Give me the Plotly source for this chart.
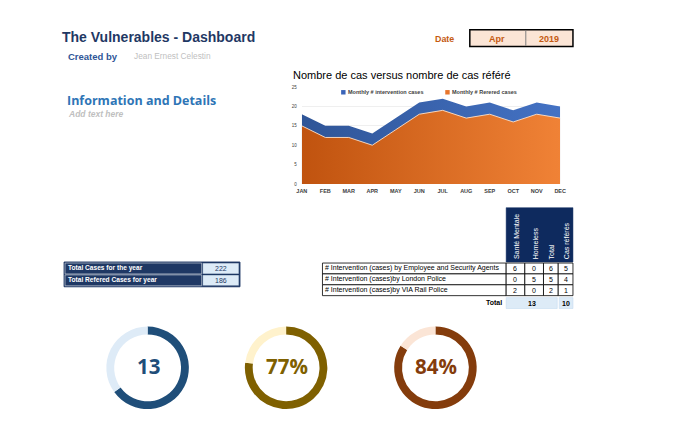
import plotly.graph_objects as go

W, H = 680, 432
OFF = 8  # page body margin offset

# ---------------- data ----------------
months = ["JAN", "FEB", "MAR", "APR", "MAY", "JUN", "JUL", "AUG", "SEP", "OCT", "NOV", "DEC"]
intervention = [18, 15, 15, 13, 17, 21, 22, 20, 21, 19, 21, 20]
referred = [15, 12, 12, 10, 14, 18, 19, 17, 18, 16, 18, 17]
y_ticks = [0, 5, 10, 15, 20, 25]
series_names = ["Monthly # intervention cases", "Monthly # Rerered cases"]

summary_labels = ["Total Cases for the year", "Total Refered Cases for year"]
summary_values = [222, 186]

agent_labels = [
    "# Intervention (cases) by Employee and Security Agents",
    "# Intervention (cases)by London Police",
    "# Intervention (cases)by VIA Rail Police",
]
col_headers = ["Santé Mentale", "Homeless", "Total", "Cas référés"]
sante = [6, 0, 2]
homeless = [0, 5, 0]
total_col = [6, 5, 2]
cas_referes = [5, 4, 1]
total_cases_row = 13
total_referes_row = 10

kpi_labels = ["13", "77%", "84%"]
kpi_fill = [65, 77, 84]
kpi_dark = ["#1F4E79", "#7F6000", "#843C0C"]
kpi_light = ["#DEEBF7", "#FFF2CC", "#FBE5D6"]

date_month = "Apr"
date_year = "2019"


def px(x):
    return (x - OFF) / W


def py(y):
    return 1 - (y - OFF) / H


fig = go.Figure()

# ---------------- area chart ----------------
fig.add_trace(go.Scatter(
    x=months, y=intervention, name=series_names[0],
    mode="lines", line=dict(width=0, color="#4472C4"),
    fill="tozeroy", fillcolor="#3F6BC0",
    fillgradient=dict(type="horizontal", colorscale=[[0, "#2F5597"], [1, "#4472C4"]]),
    hoverinfo="skip", showlegend=False,
))
fig.add_trace(go.Scatter(
    x=months, y=referred, name=series_names[1],
    mode="lines", line=dict(width=1, color="rgba(255,225,200,0.9)"),
    fill="tozeroy", fillcolor="#E06F25",
    fillgradient=dict(type="horizontal", colorscale=[[0, "#C0530F"], [1, "#F08236"]]),
    hoverinfo="skip", showlegend=False,
))

fig.update_layout(
    xaxis=dict(
        domain=[px(301), px(564)], range=[0, 11], type="category",
        showgrid=True, gridcolor="rgba(255,255,255,0.35)", gridwidth=1,
        layer="above traces", showline=False, zeroline=False,
        tickfont=dict(size=5.5, family="Liberation Sans", color="#404040", weight="bold"),
        ticks="", ticklabelstandoff=3,
    ),
    yaxis=dict(
        domain=[py(184), py(86)], range=[0, 25], tickvals=y_ticks,
        showgrid=True, gridcolor="#EFEFEF", zeroline=False, showline=False,
        tickfont=dict(size=4.5, family="Liberation Sans", color="#404040"),
        ticks="", ticklabelstandoff=4,
    ),
)

# ---------------- donuts ----------------
centers = [144, 285, 437]
cy, r = 370, 42
for i, cx in enumerate(centers):
    fig.add_trace(go.Pie(
        values=[kpi_fill[i], 100 - kpi_fill[i]],
        marker=dict(colors=[kpi_dark[i], kpi_light[i]], line=dict(width=0)),
        hole=0.81, sort=False, direction="clockwise", rotation=0,
        textinfo="none", hoverinfo="skip", showlegend=False,
        domain=dict(x=[px(cx - r), px(cx + r)], y=[py(cy + r), py(cy - r)]),
    ))

shapes = []
ann = []


def text(x, y, s, size, color, weight="normal", family="Liberation Sans",
         xanchor="left", style="normal", angle=0, yanchor="middle"):
    ann.append(dict(
        x=px(x), y=py(y), xref="paper", yref="paper", text=s, showarrow=False,
        xanchor=xanchor, yanchor=yanchor, textangle=angle, borderpad=0,
        font=dict(size=size, color=color, family=family, weight=weight, style=style),
    ))


def rect(x0, y0, x1, y1, fill, line="rgba(0,0,0,0)", lw=0):
    shapes.append(dict(
        type="rect", xref="paper", yref="paper",
        x0=px(x0), x1=px(x1), y0=py(y1), y1=py(y0),
        fillcolor=fill, line=dict(color=line, width=lw), layer="above",
    ))


def line(x0, y0, x1, y1, color, lw=1):
    shapes.append(dict(
        type="line", xref="paper", yref="paper",
        x0=px(x0), x1=px(x1), y0=py(y0), y1=py(y1),
        line=dict(color=color, width=lw), layer="above",
    ))


for i, cx in enumerate(centers):
    text(cx + 1, cy - 2, kpi_labels[i], 20.5, kpi_dark[i], weight="bold",
         family="Open Sans", xanchor="center")

# chart legend (compact squares)
leg_x = [341, 447]
leg_col = ["#3A64B8", "#E8762C"]
for k in range(2):
    rect(leg_x[k], 89, leg_x[k] + 4.5, 93.5, leg_col[k])
    text(leg_x[k] + 6, 91.3, series_names[k], 5.5, "#404040", weight="bold")

# ---------------- headers ----------------
text(56, 35, "The Vulnerables - Dashboard", 14, "#1F3864", weight="bold")
text(62, 55, "Created by", 9.5, "#2F5597", weight="bold")
text(129, 55, "Jean Ernest Celestin", 8.3, "#BFBFBF")
text(61, 100, "Information and Details", 12.5, "#2E75B6", weight="bold", family="Open Sans")
text(62, 113, "Add text here", 8.5, "#BFBFBF", weight="bold", style="italic")
text(291, 74, "Nombre de cas versus nombre de cas référé", 11, "#000000")

# date box
text(436, 37, "Date", 8.9, "#C55A11", weight="bold")
rect(472, 28, 577, 45, "#FBE5D6", "#000000", 1.5)
line(529, 28.8, 529, 44.2, "#7F7F7F", 1)
text(500, 37, date_month, 9, "#C55A11", weight="bold", xanchor="center")
text(553, 37, date_year, 9, "#C55A11", weight="bold", xanchor="center")

# right page edge line
line(679, 0, 679, 432, "#D9D9D9", 1)

# ---------------- left summary table ----------------
rect(59, 263, 238, 288, "#1F3864", "#1F3864", 1)
rows_y = [(264, 275), (276, 287)]
for i, (y0, y1) in enumerate(rows_y):
    rect(60, y0, 199, y1, "#1F3864", "#FFFFFF", 0.5)
    rect(200, y0, 237, y1, "#DDEBF7", "#1F3864", 0.5)
    text(62, (y0 + y1) / 2, summary_labels[i], 6.6, "#FFFFFF", weight="bold")
    text(218.5, (y0 + y1) / 2, str(summary_values[i]), 7, "#1F3864", xanchor="center")

# ---------------- right table ----------------
cols = [(509, 528), (528, 547), (547, 562), (562, 577)]
rect(509, 208, 577, 263, "#0E2A5E", "#0E2A5E", 0.5)
for j, (x0, x1) in enumerate(cols):
    text((x0 + x1) / 2 + 1, 261, col_headers[j], 7, "#FFFFFF", angle=-90,
         xanchor="center", yanchor="bottom")

body_rows = [(264, 275), (275, 286), (286, 297)]
col_vals = [sante, homeless, total_col, cas_referes]
for i, (y0, y1) in enumerate(body_rows):
    rect(322, y0, 509, y1, "#FFFFFF", "#000000", 0.8)
    text(324, (y0 + y1) / 2, agent_labels[i], 7, "#000000")
    for j, (x0, x1) in enumerate(cols):
        rect(x0, y0, x1, y1, "#FFFFFF", "#000000", 0.8)
        text((x0 + x1) / 2, (y0 + y1) / 2, str(col_vals[j][i]), 7, "#000000",
             xanchor="center")

# total row
text(506, 304, "Total", 7, "#000000", weight="bold", xanchor="right")
rect(509, 299, 561, 310, "#DDEBF7", "#BDD7EE", 0.5)
rect(563, 299, 577, 310, "#DDEBF7", "#BDD7EE", 0.5)
text(535, 304.5, str(total_cases_row), 7, "#000000", weight="bold", xanchor="center")
text(570, 304.5, str(total_referes_row), 7, "#000000", weight="bold", xanchor="center")

fig.update_layout(
    width=W, height=H, autosize=False,
    margin=dict(l=0, r=0, t=0, b=0),
    paper_bgcolor="#FFFFFF", plot_bgcolor="#FFFFFF",
    shapes=shapes, annotations=ann, showlegend=False,
)

fig.write_html("out.html")
